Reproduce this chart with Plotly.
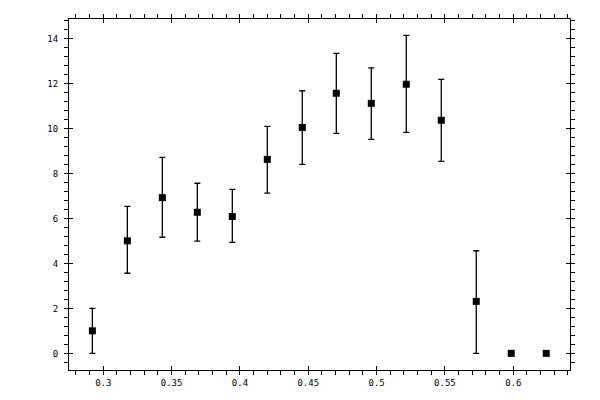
import plotly.graph_objects as go

# values
x_vals = [0.292, 0.3176, 0.3432, 0.3688, 0.3944, 0.4200, 0.4456,
          0.4705, 0.4961, 0.5217, 0.5473, 0.5729, 0.5985, 0.6241]
y_vals = [1.0, 5.0, 6.92, 6.27, 6.08, 8.62, 10.04,
          11.56, 11.11, 11.96, 10.36, 2.31, 0.0, 0.0]
y_upper = [2.0, 6.53, 8.71, 7.56, 7.29, 10.09, 11.67,
           13.33, 12.69, 14.13, 12.18, 4.56, 0.0, 0.0]
y_lower = [0.0, 3.56, 5.16, 4.99, 4.93, 7.12, 8.40,
           9.78, 9.51, 9.82, 8.53, 0.0, 0.0, 0.0]

err_plus = [u - y for u, y in zip(y_upper, y_vals)]
err_minus = [y - l for y, l in zip(y_vals, y_lower)]

x_range = [0.2749, 0.6415]
y_range = [-0.74, 14.86]

fig = go.Figure()

fig.add_trace(go.Scatter(
    x=x_vals, y=y_vals, mode='markers',
    marker=dict(symbol='square', size=7, color='black'),
    error_y=dict(type='data', symmetric=False, array=err_plus, arrayminus=err_minus,
                 color='black', thickness=1.3, width=3),
    showlegend=False,
))

# invisible trace to carry the inner (crossing) major ticks
fig.add_trace(go.Scatter(x=[], y=[], xaxis='x2', yaxis='y2', showlegend=False))

font = dict(family='DejaVu Sans Mono', size=9, color='black')

# the page body adds 8px on the left/top, so the margins are shifted by that
fig.update_layout(
    width=600, height=400,
    margin=dict(l=61, r=38, t=11, b=38, autoexpand=False),
    paper_bgcolor='white', plot_bgcolor='white',
    font=font,
    xaxis=dict(range=x_range, dtick=0.05, tick0=0, showgrid=False, zeroline=False,
               showline=True, linecolor='black', linewidth=1, mirror='ticks',
               ticks='outside', ticklen=4, tickcolor='black', tickwidth=1,
               minor=dict(dtick=0.01, ticks='outside', ticklen=4, tickcolor='black', showgrid=False),
               tickfont=font, ticklabelstandoff=0),
    yaxis=dict(range=y_range, dtick=2, tick0=0, showgrid=False, zeroline=False,
               showline=True, linecolor='black', linewidth=1, mirror='ticks',
               ticks='outside', ticklen=4, tickcolor='black', tickwidth=1,
               minor=dict(dtick=0.4, tick0=0, ticks='outside', ticklen=4, tickcolor='black', showgrid=False),
               tickfont=font, ticklabelstandoff=4),
    xaxis2=dict(range=x_range, dtick=0.05, tick0=0, overlaying='x', showgrid=False,
                zeroline=False, showline=False, mirror='ticks', ticks='inside', ticklen=4,
                tickcolor='black', showticklabels=False),
    yaxis2=dict(range=y_range, dtick=2, tick0=0, overlaying='y', showgrid=False,
                zeroline=False, showline=False, mirror='ticks', ticks='inside', ticklen=4,
                tickcolor='black', showticklabels=False),
)

fig.write_html("out.html")
